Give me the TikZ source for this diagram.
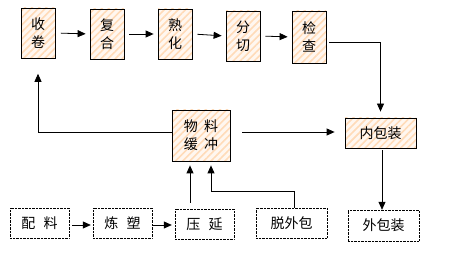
\documentclass[tikz,border=0pt]{standalone}
\usepackage{fontspec}
\newfontfamily\cjk{Noto Sans CJK SC}
\usetikzlibrary{positioning, arrows.meta, patterns.meta, calc}

\begin{document}
\begin{tikzpicture}[
        x=1pt, y=1pt,
        hatch/.style={draw, thick, rectangle, align=center, inner sep=0pt, font=\cjk\fontsize{14}{18}\selectfont,
            preaction={fill=orange!6}, pattern={Lines[angle=45, distance=5pt, line width=1.6pt]}, pattern color=orange!28},
        dotbox/.style={draw, densely dotted, rectangle, inner sep=0pt, minimum width=59pt, minimum height=30pt, font=\cjk\fontsize{14}{16}\selectfont},
        arrow/.style={-{Triangle[length=8pt, width=7pt]}, thick}
    ]
    \useasboundingbox (0,0) rectangle (450,-280);
    % --- TOP: winding line ---
    \node[hatch, minimum width=34pt, minimum height=50pt] (sj) at (38,-33) {收\\卷};
    \node[hatch, minimum width=34pt, minimum height=50pt] (fh) at (107,-34) {复\\合};
    \node[hatch, minimum width=34pt, minimum height=50pt] (sh) at (175,-34) {熟\\化};
    \node[hatch, minimum width=34pt, minimum height=50pt] (fq) at (243,-36) {分\\切};
    \node[hatch, minimum width=34pt, minimum height=52pt] (jc) at (309,-37) {检\\查};
    \draw[arrow, shorten <=5pt, shorten >=4pt] (sj.east) -- (fh.west);
    \draw[arrow, shorten <=5pt, shorten >=4pt] (fh.east) -- (sh.west);
    \draw[arrow, shorten <=5pt, shorten >=4pt] (sh.east) -- (fq.west);
    \draw[arrow, shorten <=5pt, shorten >=4pt] (fq.east) -- (jc.west);

    % --- MIDDLE: buffer and packing ---
    \node[hatch, minimum width=58pt, minimum height=51pt] (wl) at (201,-135.5) {物\hspace{0.45em}料\\缓\hspace{0.45em}冲};
    \node[hatch, minimum width=71pt, minimum height=30pt] (nbz) at (380.5,-133) {内包装};
    \draw[arrow, shorten <=3pt, shorten >=6pt] ([yshift=-5pt]jc.east) -| (nbz.north);
    \draw[arrow, shorten >=15pt] ([yshift=3.5pt]wl.west) -| (sj.south);
    \draw[arrow, shorten <=12pt, shorten >=10pt] ([yshift=3.5pt]wl.east) -- ([yshift=3.5pt]wl.east -| nbz.west);

    % --- BOTTOM: raw material ---
    \node[dotbox] (pl) at (39.5,-223) {配\hspace{0.6em}料};
    \node[dotbox] (ls) at (122.5,-223) {炼\hspace{0.6em}塑};
    \node[dotbox] (yy) at (204.5,-224) {压\hspace{0.6em}延};
    \node[dotbox, minimum width=71pt] (twb) at (291.5,-223) {脱外包};
    \node[dotbox, minimum width=71pt, minimum height=31pt] (wbz) at (383.5,-225.5) {外包装};
    \coordinate (tj) at (211,-191);
    \draw[arrow, shorten <=3pt, shorten >=2pt] ([yshift=-2pt]pl.east) -- ([yshift=-2pt]pl.east -| ls.west);
    \draw[arrow, shorten <=1pt, shorten >=3pt] ([yshift=-2pt]ls.east) -- ([yshift=-2pt]ls.east -| yy.west);
    \draw[arrow, shorten <=6pt, shorten >=4pt] ([xshift=-14.5pt]yy.north) -- ([xshift=-14.5pt]yy.north |- wl.south);
    \draw[arrow, shorten >=4pt] ([xshift=2.5pt]twb.north) |- (tj) -- (tj |- wl.south);
    \draw[arrow, shorten <=2pt] ([xshift=1.5pt]nbz.south) -- ([xshift=1.5pt]nbz.south |- wbz.north);
\end{tikzpicture}
\end{document}
